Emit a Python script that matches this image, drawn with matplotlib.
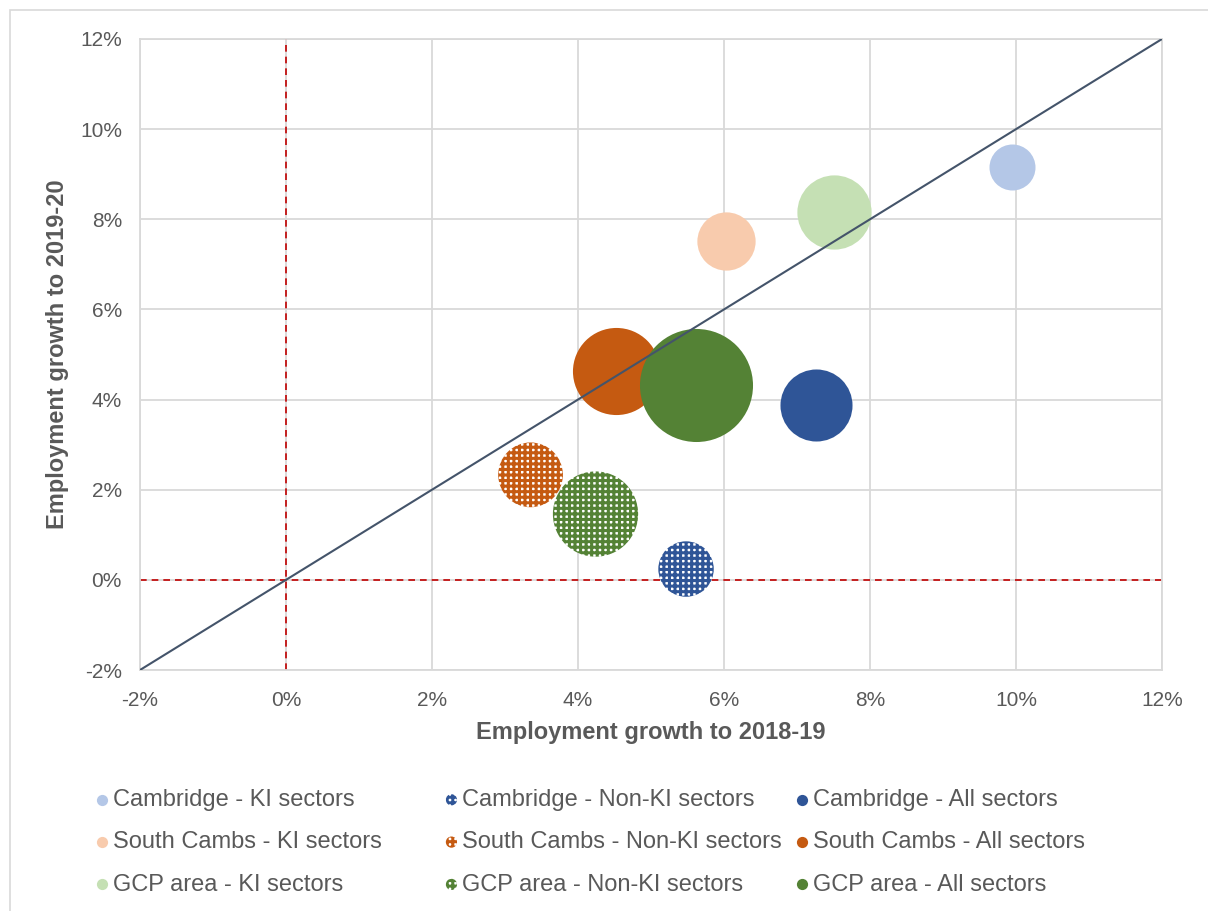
import matplotlib
matplotlib.use("Agg")
import matplotlib.pyplot as plt
from matplotlib.patches import Rectangle
from matplotlib.ticker import FuncFormatter

plt.rcParams['font.family'] = ['Liberation Sans', 'DejaVu Sans']
plt.rcParams['hatch.linewidth'] = 2.2

# ---- data ----
series_names = [
    "Cambridge - KI sectors", "Cambridge - Non-KI sectors", "Cambridge - All sectors",
    "South Cambs - KI sectors", "South Cambs - Non-KI sectors", "South Cambs - All sectors",
    "GCP area - KI sectors", "GCP area - Non-KI sectors", "GCP area - All sectors",
]
growth_2018_19 = [9.95, 5.48, 7.26, 6.03, 3.35, 4.52, 7.51, 4.24, 5.61]   # %
growth_2019_20 = [9.16, 0.24, 3.89, 7.52, 2.33, 4.63, 8.16, 1.46, 4.33]   # %
employment = [53, 77, 130, 85, 105, 190, 138, 182, 320]                   # bubble size (thousands)
patterned = [False, True, False, False, True, False, False, True, False]
colors = ["#b4c7e7", "#2f5597", "#2f5597",
          "#f8cbad", "#c55a11", "#c55a11",
          "#c5e0b4", "#548235", "#548235"]
x_ticks = [-2, 0, 2, 4, 6, 8, 10, 12]
y_ticks = [-2, 0, 2, 4, 6, 8, 10, 12]

SIZE_SCALE = 20.7
W, H = 1208, 911

fig = plt.figure(figsize=(W/100, H/100), dpi=100)
# chart border
fig.patches.append(Rectangle((10/W, -0.1), 1.2, 1 - 10/H + 0.1,
                             transform=fig.transFigure, fill=False,
                             edgecolor="#d9d9d9", linewidth=1.2))

ax = fig.add_axes([140/W, 1 - 670/H, (1162-140)/W, (670-39)/H])
ax.set_xlim(x_ticks[0], x_ticks[-1])
ax.set_ylim(y_ticks[0], y_ticks[-1])
ax.set_xticks(x_ticks)
ax.set_yticks(y_ticks)
pct = FuncFormatter(lambda v, p: f"{v:.0f}%")
ax.xaxis.set_major_formatter(pct)
ax.yaxis.set_major_formatter(pct)
ax.grid(True, color="#d9d9d9", linewidth=1.3, zorder=0)
ax.set_axisbelow(True)
for s in ax.spines.values():
    s.set_color("#d9d9d9")
    s.set_linewidth(1.3)
ax.tick_params(length=0, labelsize=15, colors="#595959")
ax.tick_params(axis='y', pad=13)
ax.tick_params(axis='x', pad=15)

# reference lines
ax.axvline(0, color="#c00000", linestyle=(0, (4, 3)), linewidth=1.2, zorder=1)
ax.axhline(0, color="#c00000", linestyle=(0, (4, 3)), linewidth=1.2, zorder=1)

handles = []
for i, name in enumerate(series_names):
    s = employment[i] * SIZE_SCALE
    if patterned[i]:
        h = ax.scatter([growth_2018_19[i]], [growth_2019_20[i]], s=s,
                       facecolors="white", edgecolors=colors[i], hatch="+++",
                       linewidths=0, zorder=3, label=name)
    else:
        h = ax.scatter([growth_2018_19[i]], [growth_2019_20[i]], s=s,
                       color=colors[i], linewidths=0, zorder=3, label=name)
    handles.append(h)

ax.plot([-2, 12], [-2, 12], color="#44546a", linewidth=1.5, zorder=4)

ax.set_xlabel("Employment growth to 2018-19", fontsize=17, fontweight="bold",
              color="#595959", labelpad=8)
ax.set_ylabel("Employment growth to 2019-20", fontsize=17, fontweight="bold",
              color="#595959", labelpad=8)

# legend: three equal-width columns, row-major order
col_x = [93, 442, 793]
for c in range(3):
    hs = [handles[c + 3*r] for r in range(3)]
    ls = [series_names[c + 3*r] for r in range(3)]
    leg = fig.legend(handles=hs, labels=ls, ncol=1,
                     loc="upper left", bbox_to_anchor=(col_x[c]/W, 1 - 789/H),
                     frameon=False, fontsize=17, labelcolor="#595959",
                     handletextpad=0.05, labelspacing=0.86, handlelength=0.8,
                     borderaxespad=0, borderpad=0, scatterpoints=1)
    for lh in leg.legend_handles:
        lh.set_sizes([65])

fig.savefig("out.png", dpi=100)
